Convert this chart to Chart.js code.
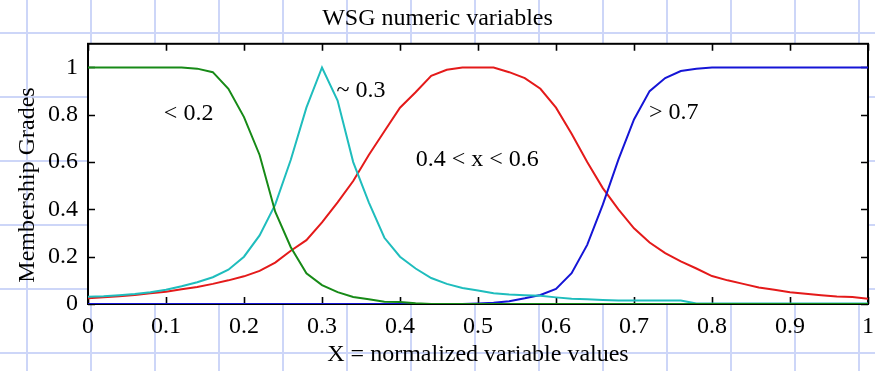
<!DOCTYPE html>
<html>
<head>
<meta charset="utf-8">
<script src="https://cdn.jsdelivr.net/npm/chart.js@4.4.1/dist/chart.umd.min.js"></script>
<style>
  html, body { margin: 0; padding: 0; }
  body {
    width: 875px; height: 371px; overflow: hidden;
    background-color: #ffffff;
    background-image:
      linear-gradient(to right, #cdd6f8 2px, transparent 2px),
      linear-gradient(to bottom, #cdd6f8 2px, transparent 2px);
    background-size: 64px 64px;
    background-position: 26px 32px;
  }
  #wrap { position: absolute; left: 0; top: 0; width: 875px; height: 371px; }
</style>
</head>
<body>
<div id="wrap"><canvas id="c" width="875" height="371"></canvas></div>
<script>
// ---- data ----
const xValues = [0,0.02,0.04,0.06,0.08,0.10,0.12,0.14,0.16,0.18,0.20,0.22,0.24,0.26,0.28,0.30,0.32,0.34,0.36,0.38,0.40,0.42,0.44,0.46,0.48,0.50,0.52,0.54,0.56,0.58,0.60,0.62,0.64,0.66,0.68,0.70,0.72,0.74,0.76,0.78,0.80,0.82,0.84,0.86,0.88,0.90,0.92,0.94,0.96,0.98,1.00];

const lowValues = [1,1,1,1,1,1,1,0.995,0.98,0.91,0.79,0.63,0.39,0.24,0.13,0.08,0.05,0.03,0.02,0.01,0.008,0.003,0,0,0,0,0,0,0,0,0,0,0,0,0,0,0,0,0,0,0,0,0,0,0,0,0,0,0,0,0];

const aroundValues = [0.031,0.033,0.037,0.042,0.05,0.06,0.075,0.092,0.113,0.145,0.20,0.29,0.42,0.61,0.83,1.0,0.86,0.60,0.43,0.28,0.20,0.15,0.11,0.085,0.068,0.057,0.045,0.04,0.037,0.035,0.028,0.022,0.02,0.017,0.015,0.015,0.015,0.015,0.015,0.002,0.002,0.002,0.002,0.002,0.002,0.002,0.002,0.002,0.002,0.002,0.002];

const midValues = [0.024,0.028,0.033,0.038,0.045,0.052,0.062,0.072,0.085,0.10,0.117,0.14,0.175,0.225,0.27,0.345,0.43,0.52,0.63,0.73,0.83,0.895,0.965,0.99,1.0,1.0,1.0,0.98,0.955,0.91,0.83,0.72,0.60,0.49,0.40,0.32,0.26,0.215,0.18,0.15,0.118,0.10,0.085,0.07,0.06,0.05,0.043,0.037,0.032,0.03,0.022];

const highValues = [0,0,0,0,0,0,0,0,0,0,0,0,0,0,0,0,0,0,0,0,0,0,0,0,0,0.002,0.005,0.012,0.024,0.038,0.064,0.13,0.25,0.42,0.61,0.78,0.90,0.955,0.985,0.995,1,1,1,1,1,1,1,1,1,1,1];

const xTicks = [0,0.1,0.2,0.3,0.4,0.5,0.6,0.7,0.8,0.9,1];
const yTicks = [0,0.2,0.4,0.6,0.8,1];

const curveLabels = ["< 0.2", "~ 0.3", "0.4 < x < 0.6", "> 0.7"];
const labelX = [0.129, 0.35, 0.499, 0.751];
const labelY = [0.803, 0.903, 0.608, 0.807];

const titleText = "WSG numeric variables";
const xTitle = "X = normalized variable values";
const yTitle = "Membership Grades";

// ---- chart ----
const FONT = '"Liberation Serif", "Times New Roman", Times, serif';
const pts = arr => arr.map((v, i) => ({ x: xValues[i], y: v }));

const framePlugin = {
  id: 'frame',
  beforeDraw(chart) {
    const { ctx, chartArea: a } = chart;
    ctx.save();
    ctx.fillStyle = '#ffffff';
    ctx.fillRect(a.left, a.top, a.right - a.left, a.bottom - a.top);
    ctx.restore();
  },
  beforeDatasetsDraw(chart) {
    const { ctx, chartArea: a, scales } = chart;
    ctx.save();
    ctx.strokeStyle = '#000000';
    ctx.lineWidth = 2;
    ctx.strokeRect(a.left, a.top, a.right - a.left, a.bottom - a.top);
    ctx.lineWidth = 1.6;
    const tl = 7;
    ctx.beginPath();
    xTicks.forEach(v => {
      const px = Math.round(scales.x.getPixelForValue(v)) + 0.5;
      ctx.moveTo(px, a.bottom); ctx.lineTo(px, a.bottom - tl);
      ctx.moveTo(px, a.top); ctx.lineTo(px, a.top + tl);
    });
    yTicks.forEach(v => {
      const py = Math.round(scales.y.getPixelForValue(v)) + 0.5;
      ctx.moveTo(a.left, py); ctx.lineTo(a.left + tl, py);
      ctx.moveTo(a.right, py); ctx.lineTo(a.right - tl, py);
    });
    ctx.stroke();
    ctx.restore();
  },
  afterDatasetsDraw(chart) {
    const { ctx, scales } = chart;
    ctx.save();
    ctx.fillStyle = '#000000';
    ctx.font = '24px ' + FONT;
    ctx.textAlign = 'center';
    ctx.textBaseline = 'middle';
    curveLabels.forEach((t, i) => {
      ctx.fillText(t, scales.x.getPixelForValue(labelX[i]), scales.y.getPixelForValue(labelY[i]));
    });
    // y-axis title
    ctx.translate(34, 185);
    ctx.rotate(-Math.PI / 2);
    ctx.textBaseline = 'alphabetic';
    ctx.fillText(yTitle, 0, 0);
    ctx.restore();
  }
};

const ds = (label, data, color, order) => ({
  label, data: pts(data), borderColor: color, backgroundColor: color,
  borderWidth: 2, pointRadius: 0, tension: 0, fill: false, order
});

new Chart(document.getElementById('c'), {
  type: 'line',
  data: {
    datasets: [
      ds('< 0.2', lowValues, '#178a17', 1),
      ds('~ 0.3', aroundValues, '#1fbdbd', 2),
      ds('> 0.7', highValues, '#1515d6', 3),
      ds('0.4 < x < 0.6', midValues, '#e41a1a', 4)
    ]
  },
  options: {
    responsive: false,
    animation: false,
    layout: { padding: { left: 0, right: 0, top: 0, bottom: 0 } },
    plugins: {
      legend: { display: false },
      tooltip: { enabled: false },
      title: {
        display: true, text: titleText, color: '#000000',
        font: { family: FONT, size: 24, weight: 'normal' },
        padding: { top: 4, bottom: 11 }
      }
    },
    scales: {
      x: {
        type: 'linear', min: 0, max: 1,
        afterBuildTicks: s => { s.ticks = xTicks.map(v => ({ value: v })); },
        afterFit: s => { s.height = 67; s.paddingRight = 7; s.paddingLeft = 0; },
        ticks: {
          color: '#000000', padding: 8, maxRotation: 0, autoSkip: false,
          font: { family: FONT, size: 24 },
          callback: v => String(v)
        },
        grid: { drawOnChartArea: false, drawTicks: false },
        border: { display: true, color: '#000000', width: 2 },
        title: {
          display: true, text: xTitle, color: '#000000',
          font: { family: FONT, size: 24 },
          padding: { top: 0, bottom: 2 }
        }
      },
      y: {
        type: 'linear', min: 0, max: 1.1,
        afterBuildTicks: s => { s.ticks = yTicks.map(v => ({ value: v })); },
        afterFit: s => { s.width = 88; },
        ticks: {
          color: '#000000', padding: 10, autoSkip: false,
          font: { family: FONT, size: 24 },
          callback: v => String(v)
        },
        grid: { drawOnChartArea: false, drawTicks: false },
        border: { display: true, color: '#000000', width: 2 },
        title: { display: false }
      }
    }
  },
  plugins: [framePlugin]
});
</script>
</body>
</html>
